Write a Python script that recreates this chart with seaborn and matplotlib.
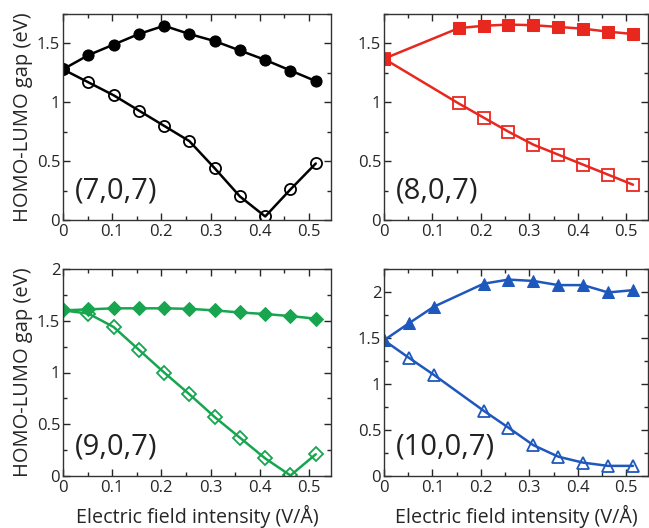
import numpy as np
import seaborn as sb
import matplotlib.pyplot as plt
from matplotlib.ticker import MultipleLocator, FuncFormatter

# field steps: 0.001 a.u. = 0.0514 V/A
field = [0.0, 0.0514, 0.1028, 0.1542, 0.2056, 0.2570, 0.3084, 0.3598, 0.4112, 0.4626, 0.5140]
field_8 = [0.0, 0.1542, 0.2056, 0.2570, 0.3084, 0.3598, 0.4112, 0.4626, 0.5140]
field_10 = [0.0, 0.0514, 0.1028, 0.2056, 0.2570, 0.3084, 0.3598, 0.4112, 0.4626, 0.5140]

# (7,0,7)
gap7_up = [1.28, 1.40, 1.49, 1.58, 1.65, 1.58, 1.52, 1.44, 1.36, 1.27, 1.18]
gap7_dn = [1.28, 1.17, 1.06, 0.93, 0.80, 0.67, 0.44, 0.20, 0.03, 0.26, 0.48]
# (8,0,7)
gap8_up = [1.37, 1.63, 1.65, 1.66, 1.655, 1.64, 1.625, 1.60, 1.58]
gap8_dn = [1.37, 0.99, 0.87, 0.75, 0.64, 0.555, 0.47, 0.385, 0.30]
# (9,0,7)
gap9_up = [1.60, 1.61, 1.62, 1.62, 1.62, 1.615, 1.60, 1.58, 1.565, 1.545, 1.52]
gap9_dn = [1.60, 1.57, 1.44, 1.22, 1.00, 0.79, 0.57, 0.37, 0.17, 0.005, 0.21]
# (10,0,7)
gap10_up = [1.475, 1.66, 1.84, 2.09, 2.135, 2.12, 2.075, 2.075, 1.995, 2.02]
gap10_dn = [1.475, 1.285, 1.10, 0.71, 0.525, 0.335, 0.21, 0.145, 0.11, 0.11]

labels = ["(7,0,7)", "(8,0,7)", "(9,0,7)", "(10,0,7)"]
colors = ["black", "#e8281f", "#17a550", "#1f58bd"]
markers = ["o", "s", "D", "^"]
ymaxes = [1.75, 1.75, 2.0, 2.25]

sb.set_style("ticks")
plt.rcParams['font.family'] = ['Open Sans', 'DejaVu Sans']
plt.rcParams['xtick.direction'] = 'in'
plt.rcParams['ytick.direction'] = 'in'
plt.rcParams['xtick.top'] = True
plt.rcParams['ytick.right'] = True

fig = plt.figure(figsize=(6.49, 5.28), dpi=100)
W, H = 649.0, 528.0
boxes = [(63, 14, 331, 220), (384, 14, 648, 220),
         (63, 269, 331, 476), (384, 269, 648, 476)]

series = [(field, gap7_up, gap7_dn), (field_8, gap8_up, gap8_dn),
          (field, gap9_up, gap9_dn), (field_10, gap10_up, gap10_dn)]

fmt = FuncFormatter(lambda v, p: "%g" % round(v, 3))

for i, (x0, y0, x1, y1) in enumerate(boxes):
    ax = fig.add_axes([x0 / W, (H - y1) / H, (x1 - x0) / W, (y1 - y0) / H])
    xs, up, dn = series[i]
    ms = 8 if markers[i] != "D" else 7
    sb.lineplot(x=xs, y=up, ax=ax, color=colors[i], marker=markers[i],
                markersize=ms, markeredgecolor=colors[i], linewidth=1.8)
    sb.lineplot(x=xs, y=dn, ax=ax, color=colors[i], marker=markers[i],
                markersize=ms, markerfacecolor='none', markeredgecolor=colors[i],
                markeredgewidth=1.3, linewidth=1.8)
    ax.set_xlim(0, 0.545)
    ax.set_ylim(0, ymaxes[i])
    ax.xaxis.set_major_locator(MultipleLocator(0.1))
    ax.xaxis.set_minor_locator(MultipleLocator(0.05))
    ax.yaxis.set_major_locator(MultipleLocator(0.5))
    ax.yaxis.set_minor_locator(MultipleLocator(0.25))
    ax.xaxis.set_major_formatter(fmt)
    ax.yaxis.set_major_formatter(fmt)
    ax.tick_params(which='major', length=5, width=1, labelsize=12, pad=3)
    ax.tick_params(which='minor', length=3, width=1)
    ax.tick_params(axis='y', pad=2)
    for s in ax.spines.values():
        s.set_linewidth(1)
        s.set_color("#333333")
    ax.text(0.045, 0.14, labels[i], transform=ax.transAxes, fontsize=21,
            va='center', ha='left', color='#222222')
    if i % 2 == 0:
        ax.set_ylabel("HOMO-LUMO gap (eV)", fontsize=14.5, labelpad=3)
    if i >= 2:
        ax.set_xlabel("Electric field intensity (V/Å)", fontsize=14.2, labelpad=6)

fig.savefig("out.png", dpi=100)
